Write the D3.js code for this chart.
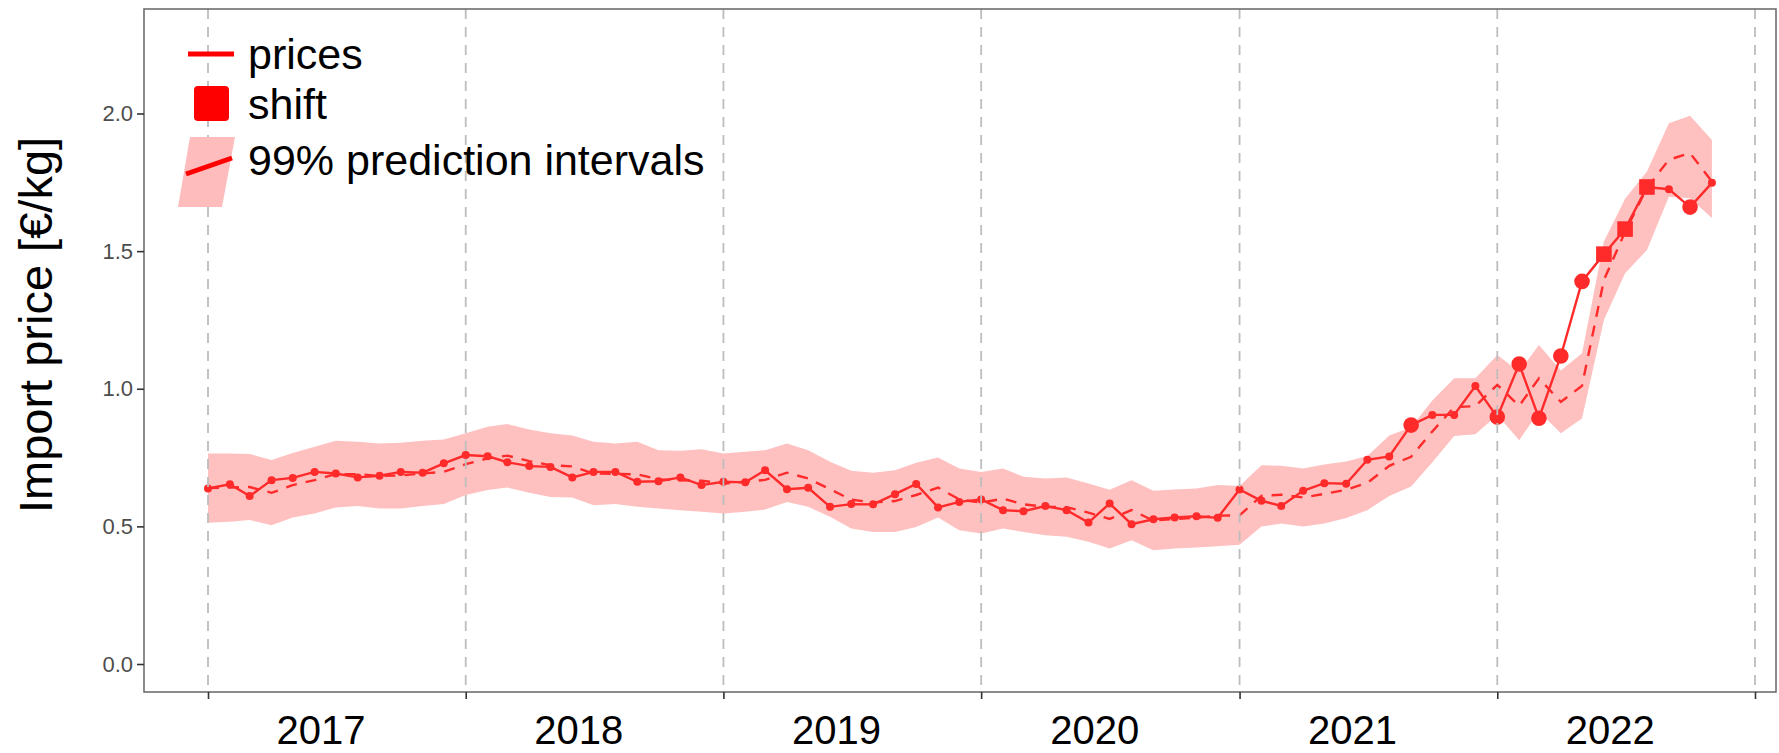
<!DOCTYPE html>
<html>
<head>
<meta charset="utf-8">
<script src="https://cdn.jsdelivr.net/npm/d3@7"></script>
<style>
  body { margin: 0; background: #fff; }
  text { font-family: "Liberation Sans", Arial, sans-serif; }
</style>
</head>
<body>
<div id="chart"></div>
<script>
// monthly import prices, Jan 2017 .. Nov 2022
const months = d3.timeMonth.range(new Date(2017, 0, 1), new Date(2022, 11, 1));

const prices = [
  0.638, 0.653, 0.610, 0.668, 0.676, 0.698, 0.692, 0.678, 0.684, 0.698, 0.695, 0.729,
  0.759, 0.755, 0.733, 0.719, 0.716, 0.678, 0.698, 0.698, 0.662, 0.664, 0.678, 0.650,
  0.662, 0.660, 0.704, 0.635, 0.640, 0.571, 0.581, 0.580, 0.617, 0.654, 0.569, 0.589,
  0.598, 0.559, 0.555, 0.574, 0.559, 0.514, 0.583, 0.508, 0.526, 0.532, 0.537, 0.531,
  0.634, 0.593, 0.574, 0.629, 0.657, 0.655, 0.742, 0.754, 0.868, 0.905, 0.905, 1.010,
  0.897, 1.090, 0.893, 1.119, 1.390, 1.489, 1.580, 1.733, 1.725, 1.660, 1.748
];

// predicted median (dashed)
const median = [
  0.639, 0.641, 0.643, 0.622, 0.650, 0.668, 0.690, 0.690, 0.683, 0.685, 0.692, 0.698,
  0.726, 0.747, 0.757, 0.737, 0.722, 0.718, 0.692, 0.691, 0.689, 0.671, 0.667, 0.666,
  0.656, 0.662, 0.669, 0.695, 0.674, 0.635, 0.597, 0.587, 0.592, 0.614, 0.641, 0.598,
  0.586, 0.601, 0.580, 0.571, 0.570, 0.550, 0.527, 0.559, 0.521, 0.527, 0.531, 0.539,
  0.540, 0.611, 0.615, 0.605, 0.618, 0.633, 0.658, 0.720, 0.753, 0.845, 0.933, 0.937,
  1.014, 0.938, 1.038, 0.952, 1.011, 1.395, 1.570, 1.730, 1.832, 1.856, 1.753
];

// 99% prediction interval
const lower = [
  0.513, 0.517, 0.523, 0.504, 0.532, 0.547, 0.569, 0.574, 0.565, 0.565, 0.574, 0.581,
  0.614, 0.632, 0.641, 0.622, 0.607, 0.605, 0.577, 0.581, 0.571, 0.565, 0.559, 0.553,
  0.547, 0.553, 0.561, 0.589, 0.571, 0.535, 0.492, 0.480, 0.480, 0.498, 0.532, 0.486,
  0.474, 0.492, 0.480, 0.468, 0.462, 0.444, 0.420, 0.450, 0.413, 0.420, 0.423, 0.428,
  0.433, 0.500, 0.510, 0.500, 0.510, 0.530, 0.559, 0.610, 0.645, 0.733, 0.828, 0.835,
  0.905, 0.813, 0.917, 0.838, 0.892, 1.250, 1.420, 1.504, 1.698, 1.692, 1.620
];
const upper = [
  0.765, 0.765, 0.763, 0.741, 0.767, 0.789, 0.811, 0.807, 0.801, 0.804, 0.811, 0.816,
  0.838, 0.862, 0.872, 0.852, 0.838, 0.830, 0.807, 0.801, 0.807, 0.777, 0.775, 0.780,
  0.765, 0.771, 0.777, 0.801, 0.777, 0.735, 0.702, 0.695, 0.704, 0.731, 0.750, 0.710,
  0.698, 0.710, 0.680, 0.674, 0.678, 0.656, 0.633, 0.668, 0.629, 0.634, 0.638, 0.650,
  0.647, 0.722, 0.720, 0.710, 0.725, 0.736, 0.756, 0.830, 0.860, 0.957, 1.038, 1.038,
  1.123, 1.062, 1.159, 1.066, 1.129, 1.535, 1.690, 1.789, 1.965, 1.992, 1.904
];

// n = regular, o = outside interval, s = shift
const markerType = [
  "n","n","n","n","n","n","n","n","n","n","n","n",
  "n","n","n","n","n","n","n","n","n","n","n","n",
  "n","n","n","n","n","n","n","n","n","n","n","n",
  "n","n","n","n","n","n","n","n","n","n","n","n",
  "n","n","n","n","n","n","n","n","o","n","n","n",
  "o","o","o","o","o","s","s","s","n","o","n"
];

const years = [2017, 2018, 2019, 2020, 2021, 2022];
const yTicks = [0, 0.5, 1, 1.5, 2];
const legendLabels = ["prices", "shift", "99% prediction intervals"];

const width = 1779, height = 753;
const panel = {left: 144, right: 1776, top: 9, bottom: 692};

const red = "#ff2a2a";
const pink = "#ffc0c0";

const data = months.map((m, i) => ({
    date: m, price: prices[i], med: median[i], lo: lower[i], hi: upper[i], type: markerType[i]
}));

const x = d3.scaleTime()
    .domain([new Date(2017, 0, 1), new Date(2023, 0, 1)])
    .range([208, 1755]);
const y = d3.scaleLinear()
    .domain([0, 2])
    .range([664, 113.5]);

const svg = d3.select("#chart")
    .append("svg")
    .attr("width", width)
    .attr("height", height);

// band
const area = d3.area()
    .x(d => x(d.date))
    .y0(d => y(d.lo))
    .y1(d => y(d.hi));
svg.append("path")
    .datum(data)
    .attr("fill", pink)
    .attr("d", area);

// dashed median
const medLine = d3.line().x(d => x(d.date)).y(d => y(d.med));
svg.append("path")
    .datum(data)
    .attr("fill", "none")
    .attr("stroke", red)
    .attr("stroke-width", 2.4)
    .attr("stroke-dasharray", "11,9")
    .attr("d", medLine);

// prices line
const priceLine = d3.line().x(d => x(d.date)).y(d => y(d.price));
svg.append("path")
    .datum(data)
    .attr("fill", "none")
    .attr("stroke", red)
    .attr("stroke-width", 2.4)
    .attr("d", priceLine);

// points
svg.append("g")
    .selectAll("circle")
    .data(data.filter(d => d.type !== "s"))
    .join("circle")
    .attr("cx", d => x(d.date))
    .attr("cy", d => y(d.price))
    .attr("r", d => d.type === "o" ? 7.8 : 4)
    .attr("fill", red);

svg.append("g")
    .selectAll("rect")
    .data(data.filter(d => d.type === "s"))
    .join("rect")
    .attr("x", d => x(d.date) - 7.8)
    .attr("y", d => y(d.price) - 7.8)
    .attr("width", 15.6)
    .attr("height", 15.6)
    .attr("fill", red);

// year gridlines (on top, like the original)
const yearStarts = d3.timeYear.range(new Date(2017, 0, 1), new Date(2023, 0, 2));
svg.append("g")
    .selectAll("line")
    .data(yearStarts)
    .join("line")
    .attr("x1", d => x(d)).attr("x2", d => x(d))
    .attr("y1", panel.top).attr("y2", panel.bottom)
    .attr("stroke", "#bdbdbd")
    .attr("stroke-width", 1.8)
    .attr("stroke-dasharray", "10,8");

// panel border
svg.append("rect")
    .attr("x", panel.left).attr("y", panel.top)
    .attr("width", panel.right - panel.left)
    .attr("height", panel.bottom - panel.top)
    .attr("fill", "none")
    .attr("stroke", "#6e6e6e")
    .attr("stroke-width", 1.6);

// y axis
const yAxis = svg.append("g")
    .attr("transform", `translate(${panel.left},0)`)
    .call(d3.axisLeft(y).tickValues(yTicks).tickFormat(d3.format(".1f")).tickSize(7).tickPadding(4));
yAxis.select(".domain").remove();
yAxis.selectAll("line").attr("stroke", "#333").attr("stroke-width", 1.6);
yAxis.selectAll("text")
    .attr("fill", "#4d4d4d")
    .style("font-size", "22px")
    .style("font-family", "'Liberation Sans', Arial, sans-serif");

// x axis ticks at year starts
const xAxis = svg.append("g")
    .attr("transform", `translate(0,${panel.bottom})`)
    .call(d3.axisBottom(x).tickValues(yearStarts).tickFormat("").tickSize(7));
xAxis.select(".domain").remove();
xAxis.selectAll("line").attr("stroke", "#333").attr("stroke-width", 1.6);

// year labels
svg.append("g")
    .selectAll("text")
    .data(years)
    .join("text")
    .attr("x", d => x(new Date(d, 5, 10)))
    .attr("y", 744)
    .attr("text-anchor", "middle")
    .style("font-size", "40px")
    .attr("fill", "#000")
    .text(d => d);

// y title
svg.append("text")
    .attr("transform", "translate(52,325) rotate(-90)")
    .attr("text-anchor", "middle")
    .style("font-size", "47px")
    .attr("fill", "#000")
    .text("Import price [€/kg]");

// legend
const lg = svg.append("g");
lg.append("line")
    .attr("x1", 188).attr("x2", 234)
    .attr("y1", 54).attr("y2", 54)
    .attr("stroke", "#ff0000").attr("stroke-width", 5);
lg.append("rect")
    .attr("x", 194).attr("y", 86)
    .attr("width", 35).attr("height", 35)
    .attr("rx", 4)
    .attr("fill", "#ff0000");
lg.append("polygon")
    .attr("points", "190,137 235,137 222,207 178,207")
    .attr("fill", "#ffbcbc");
lg.append("line")
    .attr("x1", 186).attr("y1", 174)
    .attr("x2", 232).attr("y2", 158)
    .attr("stroke", "#ff0000").attr("stroke-width", 5);

lg.selectAll("text.lab")
    .data(legendLabels)
    .join("text")
    .attr("class", "lab")
    .attr("x", 248)
    .attr("y", (d, i) => [54, 104, 160][i])
    .attr("dy", "0.35em")
    .style("font-size", "43px")
    .attr("fill", "#000")
    .text(d => d);
</script>
</body>
</html>
